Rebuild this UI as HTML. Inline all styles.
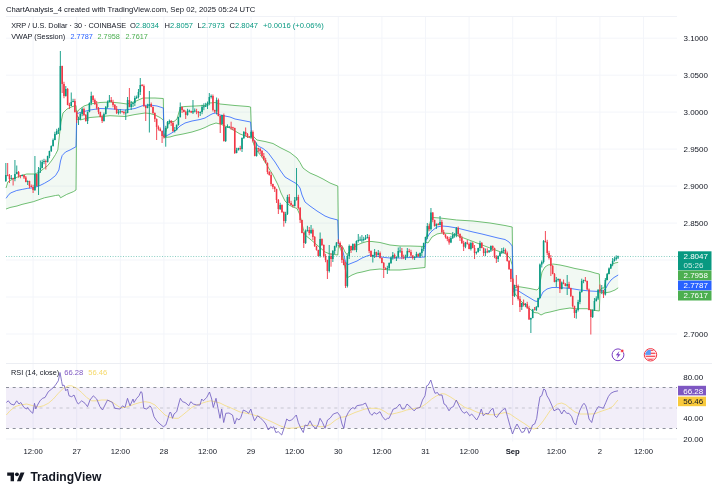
<!DOCTYPE html>
<html><head><meta charset="utf-8"><title>XRP / U.S. Dollar chart</title>
<style>
html,body{margin:0;padding:0;background:#fff;}
body{width:720px;height:495px;overflow:hidden;position:relative;font-family:"Liberation Sans",Arial,sans-serif;color:#131722;}
svg{position:absolute;left:0;top:0;}
svg text{font-family:"Liberation Sans",Arial,sans-serif;}
.t{position:absolute;white-space:nowrap;line-height:1;}
</style></head><body>
<svg width="720" height="495" viewBox="0 0 720 495">
<rect width="720" height="495" fill="#fff"/>
<!-- grid -->
<path d="M76.7 16V363M76.7 364V441.5" stroke="#f3f5fa" stroke-width="1"/>
<path d="M163.9 16V363M163.9 364V441.5" stroke="#f3f5fa" stroke-width="1"/>
<path d="M251.1 16V363M251.1 364V441.5" stroke="#f3f5fa" stroke-width="1"/>
<path d="M338.3 16V363M338.3 364V441.5" stroke="#f3f5fa" stroke-width="1"/>
<path d="M425.5 16V363M425.5 364V441.5" stroke="#f3f5fa" stroke-width="1"/>
<path d="M512.7 16V363M512.7 364V441.5" stroke="#f3f5fa" stroke-width="1"/>
<path d="M599.9 16V363M599.9 364V441.5" stroke="#f3f5fa" stroke-width="1"/>
<path d="M33.1 16V363M33.1 364V441.5" stroke="#f3f5fa" stroke-width="1"/>
<path d="M120.3 16V363M120.3 364V441.5" stroke="#f3f5fa" stroke-width="1"/>
<path d="M207.5 16V363M207.5 364V441.5" stroke="#f3f5fa" stroke-width="1"/>
<path d="M294.7 16V363M294.7 364V441.5" stroke="#f3f5fa" stroke-width="1"/>
<path d="M381.9 16V363M381.9 364V441.5" stroke="#f3f5fa" stroke-width="1"/>
<path d="M469.1 16V363M469.1 364V441.5" stroke="#f3f5fa" stroke-width="1"/>
<path d="M556.3 16V363M556.3 364V441.5" stroke="#f3f5fa" stroke-width="1"/>
<path d="M643.5 16V363M643.5 364V441.5" stroke="#f3f5fa" stroke-width="1"/>
<path d="M6 38.2H677" stroke="#f3f5fa" stroke-width="1"/>
<path d="M6 75.2H677" stroke="#f3f5fa" stroke-width="1"/>
<path d="M6 112.1H677" stroke="#f3f5fa" stroke-width="1"/>
<path d="M6 149.1H677" stroke="#f3f5fa" stroke-width="1"/>
<path d="M6 186.1H677" stroke="#f3f5fa" stroke-width="1"/>
<path d="M6 223.1H677" stroke="#f3f5fa" stroke-width="1"/>
<path d="M6 260.0H677" stroke="#f3f5fa" stroke-width="1"/>
<path d="M6 297.0H677" stroke="#f3f5fa" stroke-width="1"/>
<path d="M6 334.0H677" stroke="#f3f5fa" stroke-width="1"/>
<path d="M6 363.5H712" stroke="#eceef3" stroke-width="1"/>
<path d="M6 16.5H677" stroke="#f0f2f7" stroke-width="1"/>
<path d="M6 439H677" stroke="#f1f3f7" stroke-width="1"/>
<!-- VWAP bands -->
<polygon points="6.0,188.0 7.8,182.0 11.0,180.0 15.0,178.0 20.0,176.0 26.7,174.0 34.4,174.0 40.0,172.0 42.0,170.0 47.8,165.5 52.0,160.0 55.5,154.5 57.8,150.0 60.0,130.0 61.0,122.0 63.0,113.0 67.0,109.0 72.0,106.7 76.0,105.5 76.7,113.0 78.5,110.0 84.0,106.0 90.0,104.0 100.0,102.5 110.0,102.0 120.0,103.0 127.0,104.0 135.0,101.5 143.0,98.0 155.0,98.0 163.3,98.5 164.0,136.5 166.0,131.0 168.0,124.0 170.0,121.5 174.0,121.5 177.0,119.0 179.0,112.0 181.0,107.0 185.0,106.5 195.0,106.0 205.0,105.5 210.0,103.0 215.0,102.5 220.0,104.0 235.0,105.5 248.0,106.5 250.6,107.0 251.5,134.0 254.0,137.0 257.0,140.0 265.0,141.5 273.0,143.5 280.0,147.5 285.0,150.0 290.0,152.5 297.0,158.0 300.0,162.5 303.0,168.0 307.0,171.0 310.0,173.0 317.0,176.0 323.0,179.0 330.0,183.0 335.0,185.0 337.8,186.0 338.5,243.0 341.0,245.0 343.0,247.5 345.0,252.0 347.0,254.5 349.0,252.0 352.0,249.0 357.0,245.0 362.0,243.0 367.0,241.5 372.0,241.5 380.0,242.5 390.0,245.0 400.0,246.0 410.0,246.0 425.0,246.5 425.7,240.0 427.5,232.0 429.3,226.0 431.1,218.0 433.0,217.5 440.0,218.0 456.7,220.0 473.0,221.0 490.0,223.0 505.0,225.5 512.2,227.0 513.0,289.0 517.0,286.5 521.0,287.0 530.0,288.5 537.0,290.0 539.0,288.0 540.5,280.0 542.0,272.0 545.0,267.0 548.0,265.0 553.0,264.0 560.0,265.0 567.0,266.5 575.0,268.5 583.0,270.0 590.0,271.5 595.0,273.0 599.3,274.0 600.0,290.0 602.0,288.0 604.0,288.0 605.7,281.0 607.5,275.0 609.3,270.0 611.1,266.0 613.0,264.0 615.0,263.0 618.2,262.3 618.2,287.8 615.0,290.0 610.0,292.0 605.0,292.8 600.0,292.0 599.3,311.0 592.0,310.0 587.0,308.7 575.0,308.7 570.0,308.0 560.0,309.5 550.0,312.0 545.0,313.0 541.0,315.0 538.0,313.0 534.0,312.5 530.0,309.0 525.0,305.0 520.0,300.0 516.0,295.0 513.0,291.0 512.2,265.0 510.0,258.0 505.0,253.5 498.0,251.0 490.0,248.0 482.0,245.0 473.0,241.5 465.0,238.5 457.0,235.5 450.0,233.5 442.0,233.0 437.0,234.0 432.0,237.0 430.0,240.0 428.0,243.0 425.7,242.0 425.0,267.5 410.0,269.0 400.0,270.0 390.0,270.0 380.0,269.0 370.0,270.0 362.0,272.0 357.0,273.0 352.0,275.0 347.0,278.0 345.0,268.0 343.0,257.0 341.0,250.0 338.5,245.0 337.8,255.0 330.0,254.0 325.0,252.0 317.0,245.0 310.0,239.0 305.0,235.0 303.0,228.0 300.0,215.0 297.0,208.5 293.0,207.0 289.0,205.0 285.0,201.0 281.0,193.0 278.0,185.0 273.0,175.0 268.0,167.0 262.0,157.0 257.0,151.0 254.0,145.0 251.5,136.0 250.6,138.0 240.0,134.0 235.0,131.0 230.0,128.0 225.0,126.0 220.0,124.0 216.0,123.0 210.0,125.0 205.0,127.5 200.0,129.5 192.0,132.0 183.0,134.0 175.0,135.5 170.0,137.0 164.0,137.5 163.3,120.0 160.0,117.5 155.0,115.0 150.0,113.5 145.0,113.0 135.0,114.5 125.0,116.5 110.0,115.7 100.0,116.7 90.0,117.5 80.0,120.0 76.7,115.0 76.0,190.0 73.3,191.7 66.7,194.4 60.5,197.8 59.0,195.0 55.5,195.5 44.4,197.8 33.3,201.7 22.0,204.4 17.0,206.0 10.0,207.5 6.0,209.0" fill="#4caf50" fill-opacity="0.07"/>
<polyline points="6.0,188.0 7.8,182.0 11.0,180.0 15.0,178.0 20.0,176.0 26.7,174.0 34.4,174.0 40.0,172.0 42.0,170.0 47.8,165.5 52.0,160.0 55.5,154.5 57.8,150.0 60.0,130.0 61.0,122.0 63.0,113.0 67.0,109.0 72.0,106.7 76.0,105.5 76.7,113.0 78.5,110.0 84.0,106.0 90.0,104.0 100.0,102.5 110.0,102.0 120.0,103.0 127.0,104.0 135.0,101.5 143.0,98.0 155.0,98.0 163.3,98.5 164.0,136.5 166.0,131.0 168.0,124.0 170.0,121.5 174.0,121.5 177.0,119.0 179.0,112.0 181.0,107.0 185.0,106.5 195.0,106.0 205.0,105.5 210.0,103.0 215.0,102.5 220.0,104.0 235.0,105.5 248.0,106.5 250.6,107.0 251.5,134.0 254.0,137.0 257.0,140.0 265.0,141.5 273.0,143.5 280.0,147.5 285.0,150.0 290.0,152.5 297.0,158.0 300.0,162.5 303.0,168.0 307.0,171.0 310.0,173.0 317.0,176.0 323.0,179.0 330.0,183.0 335.0,185.0 337.8,186.0 338.5,243.0 341.0,245.0 343.0,247.5 345.0,252.0 347.0,254.5 349.0,252.0 352.0,249.0 357.0,245.0 362.0,243.0 367.0,241.5 372.0,241.5 380.0,242.5 390.0,245.0 400.0,246.0 410.0,246.0 425.0,246.5 425.7,240.0 427.5,232.0 429.3,226.0 431.1,218.0 433.0,217.5 440.0,218.0 456.7,220.0 473.0,221.0 490.0,223.0 505.0,225.5 512.2,227.0 513.0,289.0 517.0,286.5 521.0,287.0 530.0,288.5 537.0,290.0 539.0,288.0 540.5,280.0 542.0,272.0 545.0,267.0 548.0,265.0 553.0,264.0 560.0,265.0 567.0,266.5 575.0,268.5 583.0,270.0 590.0,271.5 595.0,273.0 599.3,274.0 600.0,290.0 602.0,288.0 604.0,288.0 605.7,281.0 607.5,275.0 609.3,270.0 611.1,266.0 613.0,264.0 615.0,263.0 618.2,262.3" fill="none" stroke="#4caf50" stroke-width="0.8" stroke-linejoin="round"/>
<polyline points="6.0,209.0 10.0,207.5 17.0,206.0 22.0,204.4 33.3,201.7 44.4,197.8 55.5,195.5 59.0,195.0 60.5,197.8 66.7,194.4 73.3,191.7 76.0,190.0 76.7,115.0 80.0,120.0 90.0,117.5 100.0,116.7 110.0,115.7 125.0,116.5 135.0,114.5 145.0,113.0 150.0,113.5 155.0,115.0 160.0,117.5 163.3,120.0 164.0,137.5 170.0,137.0 175.0,135.5 183.0,134.0 192.0,132.0 200.0,129.5 205.0,127.5 210.0,125.0 216.0,123.0 220.0,124.0 225.0,126.0 230.0,128.0 235.0,131.0 240.0,134.0 250.6,138.0 251.5,136.0 254.0,145.0 257.0,151.0 262.0,157.0 268.0,167.0 273.0,175.0 278.0,185.0 281.0,193.0 285.0,201.0 289.0,205.0 293.0,207.0 297.0,208.5 300.0,215.0 303.0,228.0 305.0,235.0 310.0,239.0 317.0,245.0 325.0,252.0 330.0,254.0 337.8,255.0 338.5,245.0 341.0,250.0 343.0,257.0 345.0,268.0 347.0,278.0 352.0,275.0 357.0,273.0 362.0,272.0 370.0,270.0 380.0,269.0 390.0,270.0 400.0,270.0 410.0,269.0 425.0,267.5 425.7,242.0 428.0,243.0 430.0,240.0 432.0,237.0 437.0,234.0 442.0,233.0 450.0,233.5 457.0,235.5 465.0,238.5 473.0,241.5 482.0,245.0 490.0,248.0 498.0,251.0 505.0,253.5 510.0,258.0 512.2,265.0 513.0,291.0 516.0,295.0 520.0,300.0 525.0,305.0 530.0,309.0 534.0,312.5 538.0,313.0 541.0,315.0 545.0,313.0 550.0,312.0 560.0,309.5 570.0,308.0 575.0,308.7 587.0,308.7 592.0,310.0 599.3,311.0 600.0,292.0 605.0,292.8 610.0,292.0 615.0,290.0 618.2,287.8" fill="none" stroke="#4caf50" stroke-width="0.8" stroke-linejoin="round"/>
<polyline points="6.1,198.3 8.9,194.4 11.0,192.8 16.7,190.5 22.2,189.4 27.8,188.3 33.3,187.8 38.9,186.0 44.4,183.3 50.0,180.0 55.6,175.5 58.9,170.0 60.5,161.0 62.2,155.5 65.5,152.0 70.0,150.0 76.0,146.7 76.7,114.0 80.0,112.5 90.0,110.0 100.0,108.5 110.0,108.8 125.0,110.0 135.0,108.5 143.0,105.5 150.0,105.0 157.0,106.0 163.3,108.0 164.0,137.0 170.0,134.0 175.0,131.0 180.0,126.0 185.0,123.0 192.0,121.0 200.0,119.5 205.0,118.0 210.0,115.0 213.0,113.5 216.0,113.0 220.0,115.0 230.0,117.0 235.0,119.0 248.0,121.5 250.6,122.0 251.5,135.0 254.0,140.0 258.0,146.0 263.0,148.5 268.0,152.5 272.0,158.0 275.0,162.0 280.0,170.0 285.0,177.0 290.0,180.0 297.0,184.0 300.0,188.0 302.0,195.0 305.0,202.0 310.0,206.0 317.0,211.0 325.0,216.0 330.0,218.0 337.8,220.0 338.5,244.0 341.0,247.0 343.0,252.0 345.0,260.0 347.0,265.0 352.0,263.0 357.0,261.0 362.0,258.0 367.0,256.0 370.0,255.0 375.0,256.0 385.0,257.5 390.0,258.0 400.0,258.0 410.0,257.5 425.0,257.0 425.7,241.0 427.5,237.0 430.0,233.0 433.0,230.0 437.0,227.0 442.0,226.0 448.0,226.5 457.0,228.0 465.0,230.0 473.0,232.0 482.0,234.0 490.0,236.0 498.0,238.0 505.0,239.5 509.0,242.0 512.2,246.0 513.0,290.0 517.0,290.0 521.0,292.5 525.0,295.0 530.0,298.0 535.0,301.0 537.5,301.5 540.0,298.0 543.0,292.0 547.0,289.0 552.0,287.5 557.0,287.5 565.0,288.0 572.0,288.7 580.0,290.0 590.0,291.0 599.3,291.5 600.0,291.0 603.0,291.0 606.0,288.0 608.0,284.0 611.0,280.0 614.0,277.5 618.2,275.0" fill="none" stroke="#2962ff" stroke-width="0.8" stroke-linejoin="round"/>
<!-- candles -->
<path d="M7.67 163.0V176.2M9.48 174.0V183.0M13.12 177.7V185.5M18.57 171.0V177.7M20.38 175.0V178.3M24.02 174.7V179.0M25.83 176.0V182.3M29.47 180.7V188.2M31.28 184.5V187.3M33.10 184.8V193.0M36.73 173.7V186.6M45.82 159.5V169.5M62.17 65.7V93.0M63.98 81.8V98.2M67.62 88.0V105.3M69.43 102.8V109.0M74.88 98.8V112.6M76.70 110.5V123.0M83.97 107.5V116.0M85.78 114.0V121.6M93.05 95.0V102.2M94.87 98.5V105.0M96.68 101.0V109.5M98.50 107.0V114.2M100.32 111.7V117.3M102.13 114.8V123.0M111.22 97.0V102.3M113.03 99.8V107.2M114.85 104.0V110.0M116.67 106.0V114.0M122.12 111.0V112.5M123.93 111.0V114.5M129.38 88.0V107.3M142.10 84.0V86.3M143.92 84.5V107.0M145.73 105.4V121.0M151.18 102.5V107.3M153.00 106.4V114.0M154.82 112.4V122.0M156.63 118.4V140.0M158.45 125.5V130.5M160.27 127.5V131.3M162.08 130.4V143.0M163.90 134.5V138.5M171.17 120.0V126.0M172.98 121.5V132.0M182.07 106.4V113.0M183.88 109.4V112.3M185.70 110.5V119.0M191.15 110.7V113.1M196.60 108.8V114.2M198.42 111.0V117.5M212.95 94.5V111.5M214.77 109.7V113.0M218.40 98.5V116.3M220.22 115.4V133.0M223.85 113.5V141.6M231.12 121.7V129.8M232.93 126.8V130.3M234.75 127.7V154.0M240.20 145.8V150.5M245.65 127.5V136.2M247.47 133.0V138.0M249.28 136.0V137.5M252.92 130.5V142.5M254.73 140.0V156.3M258.37 147.7V152.0M260.18 148.0V154.0M262.00 150.0V157.5M263.82 153.0V160.6M265.63 157.8V163.3M267.45 162.4V174.2M269.27 171.0V175.6M271.08 172.0V186.2M272.90 183.7V189.2M274.72 186.0V192.0M276.53 188.7V203.0M278.35 199.0V214.0M281.98 204.4V213.0M283.80 211.4V226.7M289.25 194.0V203.6M291.07 200.8V205.6M292.88 204.4V207.5M298.33 194.8V209.5M300.15 207.0V223.0M301.97 219.7V233.3M303.78 232.0V248.0M309.23 227.0V235.2M312.87 228.5V240.0M314.68 236.0V247.0M316.50 245.7V250.6M318.32 249.7V256.6M321.95 238.4V246.0M323.77 244.4V257.5M325.58 253.8V262.2M327.40 259.7V279.0M331.03 253.0V266.7M338.30 239.3V243.8M340.12 241.5V247.6M341.93 245.5V263.0M343.75 259.0V265.3M345.57 262.0V288.0M351.02 245.7V253.0M354.65 243.4V250.3M369.18 234.8V253.2M371.00 250.4V257.0M376.45 251.7V257.2M380.08 251.5V258.6M381.90 257.4V263.3M383.72 262.0V278.0M385.53 267.4V270.0M394.62 253.5V258.6M401.88 248.0V259.2M403.70 254.7V259.1M409.15 248.8V252.6M410.97 249.8V257.7M412.78 255.2V259.5M418.23 253.4V257.1M429.13 223.8V231.2M432.77 212.2V222.2M434.58 219.7V226.6M438.22 223.0V225.3M441.85 219.8V233.5M443.67 229.8V234.8M445.48 234.2V238.5M447.30 236.0V241.2M449.12 236.8V244.7M458.20 226.5V236.2M460.02 233.4V241.0M461.83 235.8V244.0M463.65 240.8V251.0M467.28 240.0V244.6M469.10 242.5V249.3M472.73 242.0V248.3M474.55 245.0V259.0M481.82 242.0V248.3M483.63 247.4V256.0M487.27 248.3V253.2M492.72 245.4V251.0M494.53 247.7V258.2M496.35 255.2V263.0M505.43 248.5V254.0M507.25 251.5V261.6M509.07 260.0V270.0M510.88 268.7V282.0M512.70 278.0V305.0M516.33 275.0V288.2M518.15 284.5V300.5M519.97 296.0V312.0M523.60 299.5V306.5M527.23 301.8V309.0M529.05 305.8V319.8M534.50 307.0V310.4M545.40 231.0V242.6M547.22 239.8V255.2M549.03 250.8V259.5M550.85 255.0V276.0M552.67 265.0V274.3M554.48 273.0V282.3M559.93 278.7V293.0M563.57 279.5V284.3M565.38 283.0V286.3M569.02 281.8V288.6M570.83 287.7V297.0M572.65 295.7V307.5M574.47 305.7V318.0M585.37 277.0V281.6M587.18 280.7V290.1M589.00 288.5V310.3M590.82 309.4V334.5M599.90 284.5V293.2M603.53 289.9V298.0" stroke="#f23645" stroke-width="0.9" fill="none"/>
<path d="M6.89 174.8h1.56V175.7h-1.56zM8.70 175.5h1.56V179.0h-1.56zM12.34 178.0h1.56V179.0h-1.56zM17.79 172.0h1.56V175.5h-1.56zM19.60 175.3h1.56V176.2h-1.56zM23.24 175.0h1.56V177.5h-1.56zM25.05 177.5h1.56V182.0h-1.56zM28.69 181.0h1.56V186.0h-1.56zM30.50 186.0h1.56V187.0h-1.56zM32.32 187.0h1.56V190.0h-1.56zM35.95 174.0h1.56V186.0h-1.56zM45.04 161.0h1.56V162.0h-1.56zM61.39 66.0h1.56V84.0h-1.56zM63.20 84.0h1.56V96.0h-1.56zM66.84 89.0h1.56V105.0h-1.56zM68.65 105.0h1.56V106.0h-1.56zM74.10 101.0h1.56V112.0h-1.56zM75.92 112.0h1.56V120.0h-1.56zM83.19 109.0h1.56V115.0h-1.56zM85.00 115.0h1.56V121.0h-1.56zM92.27 96.0h1.56V100.0h-1.56zM94.09 100.0h1.56V104.0h-1.56zM95.90 104.0h1.56V108.0h-1.56zM97.72 108.0h1.56V112.0h-1.56zM99.54 112.0h1.56V117.0h-1.56zM101.35 117.0h1.56V121.0h-1.56zM110.44 100.0h1.56V102.0h-1.56zM112.25 102.0h1.56V105.0h-1.56zM114.07 105.0h1.56V109.0h-1.56zM115.89 109.0h1.56V113.0h-1.56zM121.34 111.3h1.56V112.2h-1.56zM123.15 112.0h1.56V113.0h-1.56zM128.60 100.0h1.56V107.0h-1.56zM141.32 85.0h1.56V86.0h-1.56zM143.14 86.0h1.56V106.0h-1.56zM144.95 106.0h1.56V108.0h-1.56zM150.40 104.0h1.56V107.0h-1.56zM152.22 107.0h1.56V113.0h-1.56zM154.04 113.0h1.56V119.0h-1.56zM155.85 119.0h1.56V127.0h-1.56zM157.67 127.0h1.56V129.0h-1.56zM159.49 129.0h1.56V131.0h-1.56zM161.30 131.0h1.56V136.0h-1.56zM163.12 136.0h1.56V137.0h-1.56zM170.39 121.0h1.56V123.0h-1.56zM172.20 123.0h1.56V131.0h-1.56zM181.29 107.0h1.56V110.0h-1.56zM183.10 110.0h1.56V112.0h-1.56zM184.92 112.0h1.56V115.0h-1.56zM190.37 111.0h1.56V112.5h-1.56zM195.82 111.0h1.56V112.0h-1.56zM197.64 112.0h1.56V113.0h-1.56zM212.17 96.0h1.56V110.0h-1.56zM213.99 110.0h1.56V111.5h-1.56zM217.62 100.0h1.56V116.0h-1.56zM219.44 116.0h1.56V124.0h-1.56zM223.07 115.0h1.56V141.0h-1.56zM230.34 126.8h1.56V127.7h-1.56zM232.15 127.3h1.56V128.2h-1.56zM233.97 128.0h1.56V153.0h-1.56zM239.42 148.0h1.56V149.0h-1.56zM244.87 132.0h1.56V134.0h-1.56zM246.69 134.0h1.56V136.5h-1.56zM248.50 136.3h1.56V137.2h-1.56zM252.14 132.0h1.56V141.0h-1.56zM253.95 141.0h1.56V156.0h-1.56zM257.59 148.0h1.56V149.0h-1.56zM259.40 149.0h1.56V151.0h-1.56zM261.22 151.0h1.56V156.0h-1.56zM263.04 156.0h1.56V160.0h-1.56zM264.85 160.0h1.56V163.0h-1.56zM266.67 163.0h1.56V172.0h-1.56zM268.49 172.0h1.56V175.0h-1.56zM270.30 175.0h1.56V184.0h-1.56zM272.12 184.0h1.56V187.0h-1.56zM273.94 187.0h1.56V189.0h-1.56zM275.75 189.0h1.56V200.0h-1.56zM277.57 200.0h1.56V209.0h-1.56zM281.20 205.0h1.56V212.0h-1.56zM283.02 212.0h1.56V221.0h-1.56zM288.47 197.0h1.56V203.0h-1.56zM290.29 203.0h1.56V205.0h-1.56zM292.10 205.0h1.56V206.0h-1.56zM297.55 197.0h1.56V208.0h-1.56zM299.37 208.0h1.56V220.0h-1.56zM301.19 220.0h1.56V233.0h-1.56zM303.00 233.0h1.56V243.0h-1.56zM308.45 230.0h1.56V233.0h-1.56zM312.09 230.0h1.56V237.0h-1.56zM313.90 237.0h1.56V246.0h-1.56zM315.72 246.0h1.56V250.0h-1.56zM317.54 250.0h1.56V256.0h-1.56zM321.17 239.0h1.56V245.0h-1.56zM322.99 245.0h1.56V256.0h-1.56zM324.80 256.0h1.56V260.0h-1.56zM326.62 260.0h1.56V271.0h-1.56zM330.25 256.0h1.56V259.0h-1.56zM337.52 242.3h1.56V243.2h-1.56zM339.34 243.0h1.56V247.0h-1.56zM341.15 247.0h1.56V260.0h-1.56zM342.97 260.0h1.56V265.0h-1.56zM344.79 265.0h1.56V286.0h-1.56zM350.24 246.0h1.56V250.0h-1.56zM353.87 244.0h1.56V250.0h-1.56zM368.40 237.0h1.56V251.0h-1.56zM370.22 251.0h1.56V256.7h-1.56zM375.67 252.0h1.56V255.0h-1.56zM379.30 253.0h1.56V258.0h-1.56zM381.12 258.0h1.56V263.0h-1.56zM382.94 263.0h1.56V268.0h-1.56zM384.75 268.0h1.56V269.0h-1.56zM393.84 255.0h1.56V258.0h-1.56zM401.10 251.0h1.56V257.0h-1.56zM402.92 256.9h1.56V257.6h-1.56zM408.37 251.0h1.56V252.0h-1.56zM410.19 252.0h1.56V255.5h-1.56zM412.00 255.5h1.56V258.0h-1.56zM417.45 254.0h1.56V256.5h-1.56zM428.35 226.0h1.56V229.0h-1.56zM431.99 212.5h1.56V220.0h-1.56zM433.80 220.0h1.56V226.0h-1.56zM437.44 224.0h1.56V225.0h-1.56zM441.07 222.0h1.56V232.0h-1.56zM442.89 232.0h1.56V234.5h-1.56zM444.70 234.5h1.56V237.0h-1.56zM446.52 237.0h1.56V239.0h-1.56zM448.34 239.0h1.56V242.5h-1.56zM457.42 228.0h1.56V234.0h-1.56zM459.24 234.0h1.56V238.0h-1.56zM461.05 238.0h1.56V243.0h-1.56zM462.87 243.0h1.56V246.7h-1.56zM466.50 242.5h1.56V244.0h-1.56zM468.32 244.0h1.56V249.0h-1.56zM471.95 243.0h1.56V248.0h-1.56zM473.77 248.0h1.56V253.0h-1.56zM481.04 243.0h1.56V248.0h-1.56zM482.85 248.0h1.56V253.0h-1.56zM486.49 251.3h1.56V252.2h-1.56zM491.94 246.0h1.56V248.0h-1.56zM493.75 248.0h1.56V256.7h-1.56zM495.57 256.7h1.56V259.0h-1.56zM504.65 250.0h1.56V253.0h-1.56zM506.47 253.0h1.56V261.0h-1.56zM508.29 261.0h1.56V269.0h-1.56zM510.10 269.0h1.56V279.0h-1.56zM511.92 279.0h1.56V296.0h-1.56zM515.55 285.0h1.56V286.0h-1.56zM517.37 286.0h1.56V299.0h-1.56zM519.19 299.0h1.56V307.0h-1.56zM522.82 303.0h1.56V305.0h-1.56zM526.45 304.0h1.56V308.0h-1.56zM528.27 308.0h1.56V319.5h-1.56zM533.72 309.4h1.56V310.1h-1.56zM544.62 241.0h1.56V242.0h-1.56zM546.44 242.0h1.56V253.0h-1.56zM548.25 253.0h1.56V258.0h-1.56zM550.07 258.0h1.56V266.0h-1.56zM551.89 266.0h1.56V274.0h-1.56zM553.70 274.0h1.56V282.0h-1.56zM559.15 279.0h1.56V289.0h-1.56zM562.79 282.5h1.56V284.0h-1.56zM564.60 284.0h1.56V286.0h-1.56zM568.24 284.0h1.56V288.0h-1.56zM570.05 288.0h1.56V296.0h-1.56zM571.87 296.0h1.56V306.0h-1.56zM573.69 306.0h1.56V313.0h-1.56zM584.59 280.0h1.56V281.0h-1.56zM586.40 281.0h1.56V289.5h-1.56zM588.22 289.5h1.56V310.0h-1.56zM590.04 310.0h1.56V317.0h-1.56zM599.12 290.0h1.56V291.0h-1.56zM602.75 290.5h1.56V294.5h-1.56z" fill="#f23645"/>
<path d="M5.85 163.0V182.0M11.30 175.0V179.3M14.93 160.0V181.2M16.75 165.5V174.3M22.20 174.4V176.3M27.65 180.4V185.0M34.92 156.0V191.0M38.55 167.0V195.0M40.37 160.5V173.0M42.18 159.8V168.3M44.00 158.8V164.2M47.63 155.7V162.6M49.45 150.7V158.2M51.27 145.4V152.0M53.08 138.5V146.6M54.90 131.8V140.3M56.72 128.8V135.0M58.53 127.8V134.0M60.35 51.0V130.6M65.80 86.0V96.6M71.25 92.5V106.3M73.07 98.8V102.3M78.52 116.8V125.0M80.33 112.5V120.0M82.15 107.5V116.2M87.60 111.4V124.0M89.42 102.4V112.3M91.23 91.7V105.2M103.95 112.5V121.6M105.77 106.0V114.6M107.58 100.5V108.5M109.40 95.0V102.3M118.48 109.8V114.5M120.30 109.1V113.7M125.75 109.6V120.0M127.57 97.0V113.3M131.20 101.0V110.0M133.02 102.0V107.0M134.83 95.8V106.0M136.65 95.5V99.0M138.47 89.0V98.5M140.28 78.0V95.0M147.55 103.8V108.3M149.37 91.0V132.5M165.72 125.8V146.7M167.53 121.0V128.6M169.35 119.5V124.2M174.80 127.0V132.5M176.62 124.4V130.6M178.43 116.7V125.6M180.25 102.5V117.6M187.52 108.8V115.6M189.33 109.6V112.4M192.97 100.0V114.0M194.78 108.4V112.4M200.23 111.4V116.0M202.05 104.8V114.2M203.87 103.3V110.2M205.68 102.8V107.0M207.50 101.5V109.0M209.32 93.0V105.2M211.13 94.5V98.5M216.58 97.5V114.5M222.03 114.7V124.6M225.67 126.7V142.0M227.48 124.4V127.7M229.30 126.3V127.7M236.57 147.8V153.3M238.38 147.7V150.6M242.02 137.4V152.0M243.83 131.0V139.0M251.10 130.5V138.5M256.55 142.5V156.6M280.17 202.8V210.0M285.62 211.8V223.2M287.43 194.8V215.0M294.70 197.0V206.6M296.52 168.0V200.6M305.60 229.5V244.0M307.42 225.8V231.6M311.05 225.0V234.0M320.13 232.5V257.5M329.22 245.0V272.5M332.85 250.0V262.0M334.67 245.7V254.0M336.48 242.2V247.5M347.38 254.5V287.5M349.20 244.5V259.0M352.83 243.4V250.6M356.47 240.4V252.2M358.28 234.0V242.5M360.10 236.6V241.0M361.92 235.0V242.6M363.73 236.8V241.5M365.55 235.0V240.0M367.37 234.0V238.6M372.82 254.7V262.5M374.63 249.0V258.0M378.27 250.0V255.6M387.35 265.8V274.0M389.17 262.4V270.2M390.98 256.5V264.0M392.80 252.0V259.7M396.43 256.7V261.0M398.25 247.5V258.0M400.07 246.7V252.9M405.52 254.7V260.0M407.33 248.0V257.6M414.60 256.4V260.0M416.42 251.8V257.3M420.05 252.4V258.0M421.87 246.8V256.0M423.68 242.7V251.2M425.50 236.7V244.0M427.32 223.0V239.2M430.95 208.0V230.5M436.40 223.4V229.0M440.03 216.0V225.3M450.93 235.8V243.1M452.75 232.0V239.0M454.57 233.1V237.6M456.38 227.0V237.2M465.47 241.9V248.2M470.92 241.5V250.5M476.37 251.4V254.5M478.18 247.7V252.6M480.00 240.8V251.0M485.45 248.5V256.0M489.08 249.9V253.0M490.90 245.4V252.0M498.17 255.4V262.0M499.98 251.9V256.6M501.80 248.0V254.0M503.62 247.5V253.2M514.52 284.7V297.0M521.78 302.7V310.0M525.42 303.0V307.2M530.87 317.7V333.0M532.68 308.9V318.3M536.32 306.0V311.0M538.13 297.7V307.6M539.95 263.5V298.6M541.77 260.5V267.5M543.58 240.0V263.5M556.30 277.0V287.0M558.12 278.4V281.5M561.75 281.5V289.3M567.20 275.0V295.0M576.28 309.0V318.7M578.10 299.8V311.5M579.92 291.0V304.2M581.73 278.7V292.6M583.55 279.7V283.2M592.63 309.4V318.0M594.45 298.0V311.0M596.27 296.3V301.6M598.08 289.0V300.0M601.72 285.0V294.1M605.35 278.0V295.5M607.17 273.0V280.3M608.98 267.5V274.3M610.80 263.7V268.8M612.62 258.0V266.2M614.43 256.8V261.6M616.25 255.3V260.5M618.07 255.7V259.0" stroke="#089981" stroke-width="0.9" fill="none"/>
<path d="M5.07 175.0h1.56V181.0h-1.56zM10.52 178.0h1.56V179.0h-1.56zM14.15 174.0h1.56V179.0h-1.56zM15.97 172.0h1.56V174.0h-1.56zM21.42 175.0h1.56V176.0h-1.56zM26.87 181.0h1.56V182.0h-1.56zM34.14 174.0h1.56V190.0h-1.56zM37.77 170.0h1.56V186.0h-1.56zM39.59 168.0h1.56V170.0h-1.56zM41.40 162.0h1.56V168.0h-1.56zM43.22 161.0h1.56V162.0h-1.56zM46.85 156.0h1.56V162.0h-1.56zM48.67 151.0h1.56V156.0h-1.56zM50.49 146.0h1.56V151.0h-1.56zM52.30 140.0h1.56V146.0h-1.56zM54.12 134.0h1.56V140.0h-1.56zM55.94 131.0h1.56V134.0h-1.56zM57.75 130.0h1.56V131.0h-1.56zM59.57 66.0h1.56V130.0h-1.56zM65.02 89.0h1.56V96.0h-1.56zM70.47 102.0h1.56V106.0h-1.56zM72.29 101.0h1.56V102.0h-1.56zM77.74 119.0h1.56V120.0h-1.56zM79.55 114.0h1.56V119.0h-1.56zM81.37 109.0h1.56V114.0h-1.56zM86.82 112.0h1.56V121.0h-1.56zM88.64 103.0h1.56V112.0h-1.56zM90.45 96.0h1.56V103.0h-1.56zM103.17 114.0h1.56V121.0h-1.56zM104.99 107.0h1.56V114.0h-1.56zM106.80 102.0h1.56V107.0h-1.56zM108.62 100.0h1.56V102.0h-1.56zM117.70 112.0h1.56V113.0h-1.56zM119.52 111.3h1.56V112.2h-1.56zM124.97 112.6h1.56V113.4h-1.56zM126.79 100.0h1.56V113.0h-1.56zM130.42 104.0h1.56V107.0h-1.56zM132.24 103.0h1.56V104.0h-1.56zM134.05 98.0h1.56V103.0h-1.56zM135.87 97.0h1.56V98.0h-1.56zM137.69 92.0h1.56V97.0h-1.56zM139.50 85.0h1.56V92.0h-1.56zM146.77 106.0h1.56V108.0h-1.56zM148.59 104.0h1.56V106.0h-1.56zM164.94 128.0h1.56V137.0h-1.56zM166.75 122.0h1.56V128.0h-1.56zM168.57 121.0h1.56V122.0h-1.56zM174.02 130.0h1.56V131.0h-1.56zM175.84 125.0h1.56V130.0h-1.56zM177.65 117.0h1.56V125.0h-1.56zM179.47 107.0h1.56V117.0h-1.56zM186.74 111.0h1.56V115.0h-1.56zM188.55 110.6h1.56V111.4h-1.56zM192.19 111.0h1.56V112.5h-1.56zM194.00 110.6h1.56V111.4h-1.56zM199.45 112.0h1.56V113.0h-1.56zM201.27 107.0h1.56V112.0h-1.56zM203.09 106.3h1.56V107.2h-1.56zM204.90 105.8h1.56V106.7h-1.56zM206.72 103.0h1.56V106.0h-1.56zM208.54 97.0h1.56V103.0h-1.56zM210.35 96.0h1.56V97.0h-1.56zM215.80 100.0h1.56V111.5h-1.56zM221.25 115.0h1.56V124.0h-1.56zM224.89 127.0h1.56V141.0h-1.56zM226.70 126.6h1.56V127.4h-1.56zM228.52 126.6h1.56V127.4h-1.56zM235.79 150.0h1.56V153.0h-1.56zM237.60 148.0h1.56V150.0h-1.56zM241.24 138.0h1.56V149.0h-1.56zM243.05 132.0h1.56V138.0h-1.56zM250.32 132.0h1.56V137.0h-1.56zM255.77 148.0h1.56V156.0h-1.56zM279.39 205.0h1.56V209.0h-1.56zM284.84 214.0h1.56V221.0h-1.56zM286.65 197.0h1.56V214.0h-1.56zM293.92 200.0h1.56V206.0h-1.56zM295.74 197.0h1.56V200.0h-1.56zM304.82 231.0h1.56V243.0h-1.56zM306.64 230.0h1.56V231.0h-1.56zM310.27 230.0h1.56V233.0h-1.56zM319.35 239.0h1.56V256.0h-1.56zM328.44 256.0h1.56V271.0h-1.56zM332.07 251.0h1.56V259.0h-1.56zM333.89 246.0h1.56V251.0h-1.56zM335.70 242.5h1.56V246.0h-1.56zM346.60 256.0h1.56V286.0h-1.56zM348.42 246.0h1.56V256.0h-1.56zM352.05 244.0h1.56V250.0h-1.56zM355.69 241.0h1.56V250.0h-1.56zM357.50 240.0h1.56V241.0h-1.56zM359.32 239.6h1.56V240.4h-1.56zM361.14 239.6h1.56V240.4h-1.56zM362.95 239.0h1.56V240.0h-1.56zM364.77 238.0h1.56V239.0h-1.56zM366.59 237.0h1.56V238.0h-1.56zM372.04 255.0h1.56V256.7h-1.56zM373.85 252.0h1.56V255.0h-1.56zM377.49 253.0h1.56V255.0h-1.56zM386.57 268.0h1.56V269.0h-1.56zM388.39 263.0h1.56V268.0h-1.56zM390.20 257.5h1.56V263.0h-1.56zM392.02 255.0h1.56V257.5h-1.56zM395.65 257.0h1.56V258.0h-1.56zM397.47 251.0h1.56V257.0h-1.56zM399.29 250.6h1.56V251.4h-1.56zM404.74 256.9h1.56V257.6h-1.56zM406.55 251.0h1.56V257.0h-1.56zM413.82 257.0h1.56V258.0h-1.56zM415.64 254.0h1.56V257.0h-1.56zM419.27 253.0h1.56V256.5h-1.56zM421.09 249.0h1.56V253.0h-1.56zM422.90 243.0h1.56V249.0h-1.56zM424.72 237.0h1.56V243.0h-1.56zM426.54 226.0h1.56V237.0h-1.56zM430.17 212.5h1.56V229.0h-1.56zM435.62 224.0h1.56V226.0h-1.56zM439.25 222.0h1.56V225.0h-1.56zM450.15 238.0h1.56V242.5h-1.56zM451.97 235.0h1.56V238.0h-1.56zM453.79 234.6h1.56V235.4h-1.56zM455.60 228.0h1.56V235.0h-1.56zM464.69 242.5h1.56V246.7h-1.56zM470.14 243.0h1.56V249.0h-1.56zM475.59 252.0h1.56V253.0h-1.56zM477.40 248.0h1.56V252.0h-1.56zM479.22 243.0h1.56V248.0h-1.56zM484.67 251.5h1.56V253.0h-1.56zM488.30 250.5h1.56V252.0h-1.56zM490.12 246.0h1.56V250.5h-1.56zM497.39 256.0h1.56V259.0h-1.56zM499.20 252.5h1.56V256.0h-1.56zM501.02 251.0h1.56V252.5h-1.56zM502.84 250.0h1.56V251.0h-1.56zM513.74 285.0h1.56V296.0h-1.56zM521.00 303.0h1.56V307.0h-1.56zM524.64 304.0h1.56V305.0h-1.56zM530.09 318.0h1.56V319.5h-1.56zM531.90 309.5h1.56V318.0h-1.56zM535.54 307.0h1.56V310.0h-1.56zM537.35 298.0h1.56V307.0h-1.56zM539.17 264.5h1.56V298.0h-1.56zM540.99 262.0h1.56V264.5h-1.56zM542.80 241.0h1.56V262.0h-1.56zM555.52 280.0h1.56V282.0h-1.56zM557.34 279.0h1.56V280.0h-1.56zM560.97 282.5h1.56V289.0h-1.56zM566.42 284.0h1.56V286.0h-1.56zM575.50 310.0h1.56V313.0h-1.56zM577.32 302.0h1.56V310.0h-1.56zM579.14 292.0h1.56V302.0h-1.56zM580.95 281.0h1.56V292.0h-1.56zM582.77 280.0h1.56V281.0h-1.56zM591.85 310.0h1.56V317.0h-1.56zM593.67 301.0h1.56V310.0h-1.56zM595.49 298.5h1.56V301.0h-1.56zM597.30 290.0h1.56V298.5h-1.56zM600.94 290.4h1.56V291.1h-1.56zM604.57 280.0h1.56V294.5h-1.56zM606.39 274.0h1.56V280.0h-1.56zM608.20 268.5h1.56V274.0h-1.56zM610.02 264.0h1.56V268.5h-1.56zM611.84 261.0h1.56V264.0h-1.56zM613.65 259.0h1.56V261.0h-1.56zM615.47 257.5h1.56V259.0h-1.56zM617.29 256.3h1.56V257.5h-1.56z" fill="#089981"/>
<!-- last price line -->
<path d="M6 256.5H678" stroke="#089981" stroke-width="0.8" stroke-dasharray="1 1.6" opacity="0.6"/>
<!-- price labels -->
<rect x="678" y="251.3" width="33.5" height="19" fill="#089981"/>
<rect x="678" y="270.5" width="33.5" height="9.8" fill="#4caf50"/>
<rect x="678" y="280.6" width="33.5" height="9.8" fill="#2962ff"/>
<rect x="678" y="290.7" width="33.5" height="9.8" fill="#4caf50"/>
<text x="683.5" y="259.0" font-size="8" fill="#fff" text-anchor="start" font-weight="normal" >2.8047</text>
<text x="683.5" y="268.0" font-size="8" fill="#c9ebe4" text-anchor="start" font-weight="normal" >05:26</text>
<text x="683.5" y="278.4" font-size="8" fill="#fff" text-anchor="start" font-weight="normal" >2.7958</text>
<text x="683.5" y="288.4" font-size="8" fill="#fff" text-anchor="start" font-weight="normal" >2.7787</text>
<text x="683.5" y="297.8" font-size="8" fill="#fff" text-anchor="start" font-weight="normal" >2.7617</text>
<!-- icons -->
<g transform="translate(-0.2,0.3)">
<circle cx="618.2" cy="354.5" r="5.9" fill="#fff" stroke="#7b3fc4" stroke-width="1"/>
<path d="M619.6 350.6l-3.6 4.3h2.2l-1.2 3.5 3.7-4.5h-2.2z" fill="#7b3fc4"/>
<circle cx="622.4" cy="350.6" r="1.7" fill="#f23645" stroke="#fff" stroke-width="0.6"/>
</g>
<g transform="translate(-0.2,0.3)">
<clipPath id="fc"><circle cx="650.7" cy="354.5" r="5.2"/></clipPath>
<circle cx="650.7" cy="354.5" r="6.2" fill="#fff" stroke="#f23645" stroke-width="1"/>
<g clip-path="url(#fc)">
<rect x="645" y="349" width="12" height="11" fill="#fff"/>
<rect x="645" y="349.3" width="12" height="1.5" fill="#f7525f"/>
<rect x="645" y="352.3" width="12" height="1.5" fill="#f7525f"/>
<rect x="645" y="355.3" width="12" height="1.5" fill="#f7525f"/>
<rect x="645" y="358.3" width="12" height="1.5" fill="#f7525f"/>
<rect x="645" y="349" width="6" height="5.6" fill="#5b9cf6"/>
</g>
</g>
<!-- RSI pane -->
<rect x="6" y="387.2" width="671" height="41" fill="#7e57c2" fill-opacity="0.1"/>
<path d="M6 387.5H677M6 428.5H677" stroke="#8d909c" stroke-width="1" stroke-dasharray="3 3.7"/>
<path d="M6 408H677" stroke="#787b86" stroke-opacity="0.4" stroke-width="0.9" stroke-dasharray="3 3.7"/>
<polyline points="6.3,415.0 10.0,410.8 15.0,406.7 20.0,405.0 26.7,404.0 33.3,405.8 38.3,407.0 43.3,405.8 48.3,403.3 53.3,399.0 58.3,393.3 63.3,388.3 68.3,385.8 71.7,385.8 76.7,388.3 81.7,392.5 86.7,397.5 91.7,400.8 96.7,400.8 101.7,400.0 106.7,400.0 111.7,401.7 115.0,404.0 120.0,407.5 125.0,407.5 130.0,405.8 135.0,404.0 140.0,402.5 145.0,401.7 150.0,402.5 155.0,405.0 160.0,410.0 165.0,415.0 170.0,417.5 175.0,418.3 178.3,418.3 181.7,415.8 186.7,411.7 191.7,407.5 196.7,405.0 201.7,403.3 206.7,401.7 210.8,400.8 215.0,401.7 220.0,403.0 225.0,405.5 230.0,407.5 240.0,412.0 250.0,414.0 260.0,416.7 270.0,421.0 280.0,425.8 287.0,428.3 295.0,428.0 305.0,425.8 312.0,425.0 320.0,426.7 325.0,426.7 330.0,424.5 335.0,420.5 340.0,417.5 345.0,416.7 350.0,414.7 355.0,412.5 360.0,410.8 365.0,409.0 370.0,408.3 375.0,408.3 380.0,409.0 385.0,411.7 388.3,414.0 392.5,414.0 396.7,413.0 401.7,411.7 406.7,410.0 411.7,409.0 416.7,408.3 421.7,406.7 426.7,403.3 431.7,399.0 436.7,395.8 441.7,393.7 445.0,394.0 450.0,396.7 455.0,400.0 460.0,404.0 465.0,407.5 470.0,409.0 475.0,411.3 480.0,413.3 485.0,414.0 490.0,414.7 495.0,414.7 500.0,413.7 505.0,412.5 510.0,414.0 515.0,417.5 520.0,420.8 525.0,424.0 530.0,427.5 533.3,429.0 536.7,428.3 540.0,425.0 543.3,420.8 546.7,415.8 550.0,410.8 553.3,407.5 557.5,404.0 561.7,403.0 565.8,404.7 570.0,408.3 575.0,412.0 580.0,414.0 585.0,414.0 590.0,414.0 595.0,413.7 600.0,411.7 605.0,410.0 610.0,408.3 613.3,405.8 615.8,402.5 618.0,400.0" fill="none" stroke="#f4dc7c" stroke-width="0.8" stroke-linejoin="round"/>
<polyline points="6.3,402.5 8.3,400.8 10.8,404.0 14.0,405.0 16.7,400.8 19.0,404.0 20.8,402.5 24.0,407.5 26.7,409.0 27.5,407.5 30.0,410.8 32.8,413.3 34.5,403.3 35.8,409.0 37.5,405.0 40.0,400.8 42.5,398.3 45.0,397.5 48.3,391.7 51.7,389.0 55.0,385.8 58.3,380.8 60.0,372.5 61.7,381.7 62.5,385.8 64.0,385.0 65.8,390.8 67.5,389.0 69.0,395.8 71.7,396.7 74.0,395.0 76.7,401.7 78.3,404.0 81.7,400.8 85.0,403.3 87.5,406.7 90.0,400.0 93.3,395.8 96.7,399.0 100.0,406.7 102.5,410.0 105.0,405.0 107.5,400.0 110.8,401.7 112.5,402.5 114.7,408.3 120.0,409.0 122.5,405.8 125.0,407.5 127.5,398.3 130.0,405.8 133.0,399.0 134.0,402.5 136.7,398.3 139.0,395.8 140.8,391.7 142.0,392.5 143.8,408.3 146.7,409.0 150.0,405.8 151.7,408.3 154.0,416.7 156.7,420.8 160.0,424.0 163.3,426.7 165.8,425.0 167.5,420.0 169.7,412.5 170.8,412.5 172.5,418.3 174.0,414.0 176.7,411.7 178.7,404.0 180.3,398.3 182.5,401.7 185.0,402.5 187.0,404.0 188.7,405.8 190.8,401.7 193.3,404.0 196.7,405.0 200.0,405.0 201.7,399.0 203.3,400.8 206.7,397.5 209.5,392.0 211.7,399.0 213.3,407.5 216.0,398.3 218.0,408.3 220.0,418.3 221.7,409.0 223.7,422.5 225.8,413.3 229.0,413.0 232.5,415.0 234.7,424.0 236.7,418.3 239.0,420.0 240.8,417.5 243.3,410.0 246.7,411.7 248.7,413.3 250.8,409.0 252.5,415.0 254.5,420.8 257.5,415.8 260.0,417.5 263.3,420.8 265.8,424.0 268.3,430.0 270.8,426.7 272.0,428.3 273.7,426.7 275.8,432.5 278.3,431.7 281.7,435.0 284.0,428.3 286.7,419.0 289.0,420.8 291.7,420.0 294.0,417.5 296.3,415.0 298.3,422.5 300.8,428.3 303.3,432.5 305.0,425.0 307.5,425.8 310.0,420.8 312.5,425.8 315.8,428.3 318.0,425.0 320.0,418.3 322.5,422.5 325.0,428.3 327.5,420.0 330.0,418.3 333.3,414.0 337.5,412.5 340.0,415.8 342.0,424.0 343.8,428.3 345.8,417.5 348.3,412.5 350.8,409.0 353.0,407.5 354.7,409.0 356.7,405.8 359.0,405.3 362.5,404.7 365.5,403.0 367.5,407.5 370.0,413.3 372.0,415.3 374.0,412.5 376.7,414.0 380.0,411.7 382.5,416.7 385.3,420.0 387.5,418.3 389.0,418.3 391.7,412.5 393.3,409.0 395.8,408.3 397.5,406.7 399.7,404.0 402.0,409.0 404.5,408.7 407.0,404.0 409.0,405.8 411.7,408.3 414.0,410.8 416.7,408.3 420.0,407.5 422.5,400.0 425.0,395.8 426.7,385.8 428.3,385.0 430.8,380.0 433.0,387.5 435.0,393.3 437.5,392.5 439.0,395.0 442.0,395.0 444.0,404.0 445.8,405.0 449.0,410.8 451.3,407.5 453.3,406.7 456.3,400.0 459.0,405.8 461.7,410.8 464.0,413.3 466.7,411.7 469.7,415.8 471.7,414.0 474.0,416.7 476.7,420.0 479.0,415.8 481.3,409.0 483.3,415.8 485.8,413.3 488.3,414.0 490.8,410.0 493.0,408.3 494.7,415.8 496.7,417.5 499.0,414.0 502.5,410.0 505.3,408.3 507.5,416.7 510.0,425.8 512.5,434.0 514.7,428.3 517.0,424.0 519.0,427.5 521.7,432.5 524.0,431.7 525.8,427.5 527.5,428.3 529.0,433.3 530.8,430.0 532.5,425.0 534.7,424.0 536.7,418.3 538.3,406.7 540.0,396.7 541.7,395.8 543.7,389.0 545.3,390.0 547.0,395.8 549.0,399.0 551.7,405.0 554.0,410.8 557.5,409.0 559.0,409.0 561.7,414.0 564.0,410.0 566.7,413.3 569.0,413.3 571.7,416.7 573.7,422.5 575.8,425.0 577.5,417.5 580.0,410.0 582.5,405.0 584.0,403.3 585.8,405.8 587.5,411.7 589.0,419.0 591.7,422.5 593.7,415.0 595.8,410.8 598.3,406.7 600.8,407.5 603.3,408.3 605.8,402.5 608.3,396.7 610.8,393.3 614.0,391.7 618.0,390.8" fill="none" stroke="#7360c2" stroke-width="0.85" stroke-linejoin="round"/>
<rect x="678" y="385.8" width="28" height="9.6" fill="#7e57c2"/>
<rect x="678" y="396.6" width="28" height="9.6" fill="#f9ca3c"/>
<text x="683.2" y="393.5" font-size="8" fill="#fff" text-anchor="start" font-weight="normal" >66.28</text>
<text x="683.2" y="404.3" font-size="8" fill="#131722" text-anchor="start" font-weight="normal" >56.46</text>
<text x="683.5" y="41.1" font-size="8" fill="#131722" text-anchor="start" font-weight="normal" >3.1000</text>
<text x="683.5" y="78.07000000000001" font-size="8" fill="#131722" text-anchor="start" font-weight="normal" >3.0500</text>
<text x="683.5" y="115.04" font-size="8" fill="#131722" text-anchor="start" font-weight="normal" >3.0000</text>
<text x="683.5" y="152.01000000000002" font-size="8" fill="#131722" text-anchor="start" font-weight="normal" >2.9500</text>
<text x="683.5" y="188.98" font-size="8" fill="#131722" text-anchor="start" font-weight="normal" >2.9000</text>
<text x="683.5" y="225.95000000000002" font-size="8" fill="#131722" text-anchor="start" font-weight="normal" >2.8500</text>
<text x="683.5" y="336.9" font-size="8" fill="#131722" text-anchor="start" font-weight="normal" >2.7000</text>
<text x="683.2" y="379.9" font-size="8" fill="#131722" text-anchor="start" font-weight="normal" >80.00</text>
<text x="683.2" y="421.2" font-size="8" fill="#131722" text-anchor="start" font-weight="normal" >40.00</text>
<text x="683.2" y="441.59999999999997" font-size="8" fill="#131722" text-anchor="start" font-weight="normal" >20.00</text>
<text x="33.1" y="453.8" font-size="7.7" fill="#131722" text-anchor="middle" font-weight="normal" >12:00</text>
<text x="76.7" y="453.8" font-size="7.7" fill="#131722" text-anchor="middle" font-weight="normal" >27</text>
<text x="120.3" y="453.8" font-size="7.7" fill="#131722" text-anchor="middle" font-weight="normal" >12:00</text>
<text x="163.9" y="453.8" font-size="7.7" fill="#131722" text-anchor="middle" font-weight="normal" >28</text>
<text x="207.5" y="453.8" font-size="7.7" fill="#131722" text-anchor="middle" font-weight="normal" >12:00</text>
<text x="251.1" y="453.8" font-size="7.7" fill="#131722" text-anchor="middle" font-weight="normal" >29</text>
<text x="294.7" y="453.8" font-size="7.7" fill="#131722" text-anchor="middle" font-weight="normal" >12:00</text>
<text x="338.3" y="453.8" font-size="7.7" fill="#131722" text-anchor="middle" font-weight="normal" >30</text>
<text x="381.9" y="453.8" font-size="7.7" fill="#131722" text-anchor="middle" font-weight="normal" >12:00</text>
<text x="425.5" y="453.8" font-size="7.7" fill="#131722" text-anchor="middle" font-weight="normal" >31</text>
<text x="469.1" y="453.8" font-size="7.7" fill="#131722" text-anchor="middle" font-weight="normal" >12:00</text>
<text x="512.7" y="453.8" font-size="7.7" fill="#131722" text-anchor="middle" font-weight="bold" >Sep</text>
<text x="556.3" y="453.8" font-size="7.7" fill="#131722" text-anchor="middle" font-weight="normal" >12:00</text>
<text x="599.9" y="453.8" font-size="7.7" fill="#131722" text-anchor="middle" font-weight="normal" >2</text>
<text x="643.5" y="453.8" font-size="7.7" fill="#131722" text-anchor="middle" font-weight="normal" >12:00</text>
<!-- logo -->
<g transform="translate(7.2,470.45) scale(0.487)" fill="#131722">
<path d="M14 22H7V11H0V4h14v18zM28 22h-8l7.5-18h8L28 22z"/><circle cx="20" cy="8" r="4"/>
</g>
<text x="30.4" y="480.7" font-size="12.1" fill="#131722" text-anchor="start" font-weight="bold" >TradingView</text>
</svg>
<div class="t" style="left:6px;top:6px;font-size:7.7px;">ChartAnalysis_4 created with TradingView.com, Sep 02, 2025 05:24 UTC</div>
<div class="t" style="left:11.2px;top:22.4px;font-size:7.3px;"><span>XRP / U.S. Dollar · 30 · COINBASE</span><span style="position:absolute;left:118.8px;font-size:7.55px">O<span style="color:#089981">2.8034</span></span><span style="position:absolute;left:153.3px;font-size:7.55px">H<span style="color:#089981">2.8057</span></span><span style="position:absolute;left:186.3px;font-size:7.55px">L<span style="color:#089981">2.7973</span></span><span style="position:absolute;left:218.3px;font-size:7.55px">C<span style="color:#089981">2.8047</span></span><span style="position:absolute;left:251.8px;font-size:7.6px;color:#089981">+0.0016 (+0.06%)</span></div>
<div class="t" style="left:11.2px;top:33px;font-size:7.3px;"><span>VWAP (Session)</span><span style="position:absolute;left:59.3px;color:#2962ff">2.7787</span><span style="position:absolute;left:86.3px;color:#4caf50">2.7958</span><span style="position:absolute;left:114.3px;color:#4caf50">2.7617</span></div>
<div class="t" style="left:11px;top:369px;font-size:7.3px;"><span>RSI (14, close)</span><span style="position:absolute;left:53.2px;font-size:7.6px;color:#7e57c2">66.28</span><span style="position:absolute;left:77.2px;font-size:7.6px;color:#f5d96b">56.46</span></div>
</body></html>
